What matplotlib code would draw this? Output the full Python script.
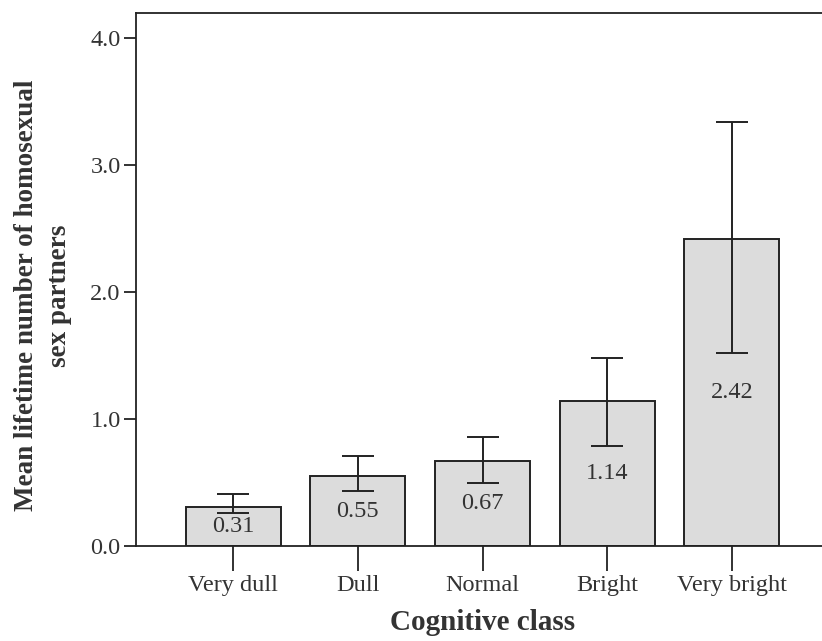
import numpy as np
import matplotlib.pyplot as plt

# cognitive class vs mean lifetime number of homosexual partners
classes = ['Very dull', 'Dull', 'Normal', 'Bright', 'Very bright']
means = [0.31, 0.55, 0.67, 1.14, 2.42]
ci_low = [0.26, 0.43, 0.50, 0.79, 1.52]
ci_high = [0.41, 0.71, 0.86, 1.48, 3.34]
yticks = [0.0, 1.0, 2.0, 3.0, 4.0]

plt.rcParams['font.family'] = ['Liberation Serif', 'DejaVu Serif']
txt = '#333333'

fig = plt.figure(figsize=(8.22, 6.41), dpi=100)
ax = fig.add_axes([136/822, 95/641, 693/822, 533/641])

x = np.arange(len(classes))
m = np.array(means)
err = np.array([m - np.array(ci_low), np.array(ci_high) - m])

ax.bar(x, m, width=0.76, color='#dcdcdc', edgecolor='#222222', linewidth=1.4, zorder=2)
ax.errorbar(x, m, yerr=err, fmt='none', ecolor='#222222', elinewidth=1.4,
            capsize=11.5, capthick=1.4, zorder=3)

for xi, v in zip(x, means):
    ax.text(xi, v / 2, f'{v:.2f}', ha='center', va='center', fontsize=17.5, color=txt, zorder=4)

ax.set_xlim(-0.78, 4.78)
ax.set_ylim(0, 4.2)
ax.set_xticks(x)
ax.set_xticklabels(classes, fontsize=17.5, color=txt)
ax.set_yticks(yticks)
ax.set_yticklabels([f'{t:.1f}' for t in yticks], fontsize=17.5, color=txt)
ax.tick_params(axis='x', length=18, width=1.3, pad=3, color='#222222')
ax.tick_params(axis='y', length=9, width=1.3, pad=2, color='#222222')

for s in ['left', 'bottom', 'top']:
    ax.spines[s].set_linewidth(1.3)
    ax.spines[s].set_color('#222222')
ax.spines['right'].set_visible(False)

ax.set_xlabel('Cognitive class', fontsize=21, fontweight='bold', color=txt, labelpad=9)
ax.set_ylabel('Mean lifetime number of homosexual\nsex partners', fontsize=19.5,
              fontweight='bold', color=txt, linespacing=1.45)
ax.yaxis.set_label_coords(-0.092, 0.47)

fig.savefig('out.png', dpi=100)
